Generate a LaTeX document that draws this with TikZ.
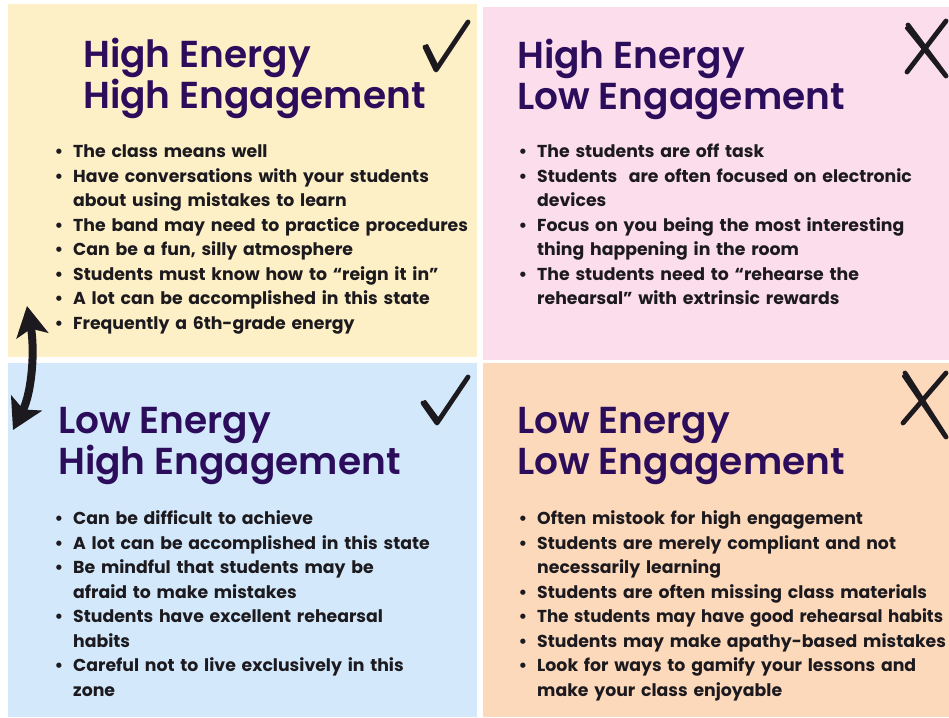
\documentclass[tikz,border=0pt]{standalone}
\usepackage{fontspec}
\setmainfont{Poppins}[UprightFont=* Bold, BoldFont=* Bold]
\newfontfamily\titrefont{Poppins}[UprightFont=* SemiBold]
\usepackage{enumitem}
\setlist[itemize]{label=\textbullet, leftmargin=16pt, labelsep=10pt, itemsep=0pt, parsep=0pt, topsep=0pt, partopsep=0pt}
\usetikzlibrary{arrows.meta}

\definecolor{jaune}{HTML}{FDF0C6}
\definecolor{rose}{HTML}{FCDDEC}
\definecolor{bleu}{HTML}{D3E9FB}
\definecolor{peche}{HTML}{FDD9BC}
\definecolor{titre}{HTML}{2C0D5B}
\definecolor{encre}{HTML}{1C1A1E}

\begin{document}
\begin{tikzpicture}[x=1pt,y=-1pt,
	titre/.style={anchor=north west, inner sep=0pt, align=left, text=titre, font=\titrefont\fontsize{37.5}{41}\selectfont},
	liste/.style={anchor=north west, inner sep=0pt, text width=520pt, text=encre, font=\fontsize{17.3}{24.5}\selectfont},
	brush/.style={line width=4.8pt, line cap=round, line join=round, draw=encre},
	fine/.style={line width=2.4pt, line cap=round, line join=round, draw=encre}]
	%\draw[help lines,step=50] (0,0) grid (949,717);
	\useasboundingbox (0,0) rectangle (949,717);
	\fill[white] (0,0) rectangle (949,717);
	
	%CASES
	\fill[jaune] (8,4) rectangle (477,357);
	\fill[rose] (483,7) rectangle (949,360);
	\fill[bleu] (8,363) rectangle (477,717);
	\fill[peche] (483,363) rectangle (949,717);
	
	%HAUT GAUCHE
	\node[titre] (hh) at (83,38) {High Energy\\High Engagement};
	\node[liste] (hhl) at (57,133) {\begin{itemize}
		\item The class means well
		\item Have conversations with your students\\about using mistakes to learn
		\item The band may need to practice procedures
		\item Can be a fun, silly atmosphere
		\item Students must know how to “reign it in”
		\item A lot can be accomplished in this state
		\item Frequently a 6th-grade energy
	\end{itemize}};
	
	%HAUT DROITE
	\node[titre] (hb) at (517,39) {High Energy\\Low Engagement};
	\node[liste] (hbl) at (521,133) {\begin{itemize}
		\item The students are off task
		\item Students\ \ are often focused on electronic\\devices
		\item Focus on you being the most interesting\\thing happening in the room
		\item The students need to “rehearse the\\rehearsal” with extrinsic rewards
	\end{itemize}};
	
	%BAS GAUCHE
	\node[titre] (bh) at (58,407) {Low Energy\\High Engagement};
	\node[liste] (bhl) at (57,500) {\begin{itemize}
		\item Can be difficult to achieve
		\item A lot can be accomplished in this state
		\item Be mindful that students may be\\afraid to make mistakes
		\item Students have excellent rehearsal\\habits
		\item Careful not to live exclusively in this\\zone
	\end{itemize}};
	
	%BAS DROITE
	\node[titre] (bb) at (517,407) {Low Energy\\Low Engagement};
	\node[liste] (bbl) at (521,500) {\begin{itemize}
		\item Often mistook for high engagement
		\item Students are merely compliant and not\\necessarily learning
		\item Students are often missing class materials
		\item \scalebox{0.965}[1]{The students may have good rehearsal habits}
		\item Students may make apathy-based mistakes
		\item Look for ways to gamify your lessons and\\make your class enjoyable
	\end{itemize}};
	
	%COCHES
	\draw[brush] (425,47) -- (436,70) -- (468,22);
	\draw[fine] (427,45) -- (438,67) -- (466,25);
	\draw[brush] (423,403) -- (437,423) -- (468,377);
	\draw[fine] (425,401) -- (439,420) -- (466,380);
	
	%CROIX
	\draw[brush] (908,25) -- (946,76);
	\draw[fine] (906,28) -- (944,75);
	\draw[brush] (946,21) -- (907,72);
	\draw[brush] (905,373) -- (946,437);
	\draw[fine] (903,376) -- (944,436);
	\draw[brush] (946,373) -- (903,423);
	
	%FLECHE
	\coordinate (haut) at (27,306);
	\coordinate (bas) at (13,430);
	\draw[line width=8pt, encre, {Stealth[length=30pt,width=32pt,inset=7pt]}-{Stealth[length=30pt,width=34pt,inset=7pt]}] (haut) .. controls (35,350) and (32,392) .. (bas);
\end{tikzpicture}
\end{document}
